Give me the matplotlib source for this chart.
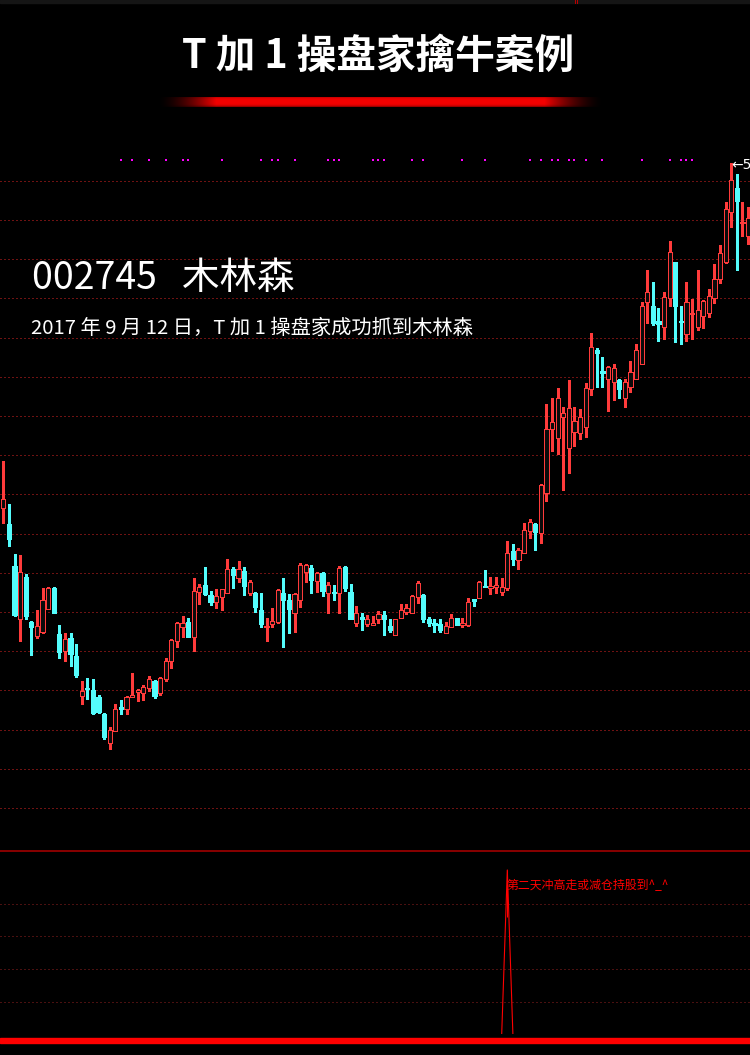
import numpy as np
import matplotlib
matplotlib.use("Agg")
import matplotlib.pyplot as plt
from matplotlib.patches import Rectangle

plt.rcParams['font.family'] = ['Noto Sans CJK SC', 'DejaVu Sans']

# daily K-line of 002745, one value per trading day
opens = [
    37.09, 36.30, 34.20, 31.54, 33.67, 31.40, 30.70, 30.92, 32.07, 33.10,
    30.80, 29.95, 30.60, 29.70, 27.72, 28.08, 28.00, 27.65, 26.80, 25.37,
    25.97, 27.17, 27.04, 27.67, 27.90, 27.84, 28.09, 28.45, 27.87, 28.55,
    29.47, 30.47, 31.17, 31.40, 30.67, 32.92, 33.25, 32.75, 32.42, 32.67,
    32.84, 34.04, 33.59, 33.95, 32.85, 32.84, 32.00, 31.14, 31.29, 31.42,
    32.87, 32.50, 31.84, 32.50, 33.92, 34.12, 33.47, 33.87, 32.84, 32.92,
    32.84, 34.17, 32.92, 31.37, 31.67, 31.30, 31.27, 31.55, 31.75, 31.20,
    30.75, 31.62, 31.92, 31.87, 32.67, 32.75, 31.55, 31.37, 31.29, 30.84,
    31.17, 31.59, 31.25, 31.25, 32.54, 32.59, 33.20, 33.09, 33.17, 32.92,
    33.12, 34.97, 34.50, 34.84, 35.97, 36.30, 35.87, 37.84, 41.04, 40.59,
    41.67, 40.09, 40.92, 40.87, 41.17, 43.05, 45.00, 43.97, 43.54, 43.42,
    43.50, 42.59, 43.14, 43.57, 44.29, 47.39, 47.20, 46.45, 46.14, 47.59,
    49.38, 46.44, 45.79, 46.79, 46.17, 46.70, 46.87, 47.62, 48.54, 49.40,
    51.92, 53.12, 51.34, 50.70]
highs = [
    39.47, 37.30, 34.80, 34.75, 33.80, 31.45, 32.00, 33.10, 33.15, 33.13,
    31.25, 30.87, 30.87, 30.30, 28.45, 28.62, 28.57, 27.75, 26.85, 26.14,
    27.29, 27.50, 27.70, 28.87, 28.03, 28.25, 28.70, 28.48, 28.64, 29.59,
    30.54, 31.42, 31.70, 31.59, 33.62, 33.30, 34.17, 32.95, 33.05, 33.06,
    34.55, 34.17, 34.45, 34.15, 33.50, 32.89, 32.84, 31.59, 32.09, 33.04,
    33.59, 32.80, 32.84, 34.37, 34.28, 34.25, 33.92, 33.88, 33.39, 33.25,
    34.20, 34.20, 33.30, 32.20, 31.87, 31.75, 31.70, 31.97, 31.97, 31.54,
    31.55, 32.30, 32.30, 32.73, 33.45, 32.78, 31.67, 31.54, 31.54, 31.42,
    31.80, 31.60, 31.59, 32.59, 32.56, 33.43, 34.00, 33.64, 33.67, 33.59,
    35.47, 35.30, 35.09, 36.37, 36.54, 36.34, 38.30, 42.30, 42.59, 43.09,
    42.14, 43.50, 42.14, 42.04, 43.37, 45.84, 45.09, 44.67, 44.20, 44.29,
    43.57, 43.54, 44.47, 45.30, 47.42, 49.00, 48.39, 47.09, 47.89, 50.45,
    49.39, 47.22, 48.39, 47.55, 49.00, 47.50, 48.05, 49.30, 50.25, 52.42,
    54.34, 53.80, 52.39, 52.17]
lows = [
    36.34, 35.20, 31.72, 30.47, 31.57, 29.75, 30.62, 30.87, 32.03, 31.85,
    29.62, 29.47, 29.20, 28.67, 27.30, 27.55, 26.80, 26.87, 25.55, 25.07,
    25.95, 26.80, 26.80, 27.65, 27.47, 27.50, 27.97, 27.59, 27.74, 28.47,
    29.12, 30.17, 30.64, 30.65, 29.97, 32.30, 32.75, 32.27, 32.12, 32.00,
    32.83, 33.12, 33.42, 32.75, 32.75, 31.92, 31.14, 30.47, 31.14, 31.37,
    30.17, 30.87, 30.92, 32.17, 33.42, 32.87, 32.92, 32.70, 31.84, 32.50,
    31.84, 32.95, 31.54, 31.20, 31.00, 31.20, 31.25, 31.37, 30.75, 30.92,
    30.74, 31.60, 31.80, 31.85, 32.34, 31.42, 31.20, 30.92, 30.92, 30.83,
    31.14, 31.23, 31.14, 31.20, 32.22, 32.58, 33.13, 32.80, 32.84, 32.75,
    33.00, 34.25, 34.07, 34.83, 35.59, 35.00, 35.34, 37.47, 39.97, 39.80,
    38.00, 38.84, 40.20, 40.55, 40.64, 42.75, 43.17, 43.17, 41.97, 42.50,
    42.59, 42.14, 42.92, 43.55, 44.28, 46.34, 46.25, 45.47, 45.54, 47.20,
    45.42, 45.30, 45.47, 45.54, 46.00, 46.09, 46.67, 47.37, 48.34, 49.34,
    51.17, 49.00, 50.72, 50.30]
closes = [
    37.54, 35.57, 31.75, 33.89, 31.70, 31.17, 31.20, 32.50, 33.10, 31.87,
    29.90, 30.55, 29.82, 28.74, 27.95, 28.03, 26.84, 26.90, 25.64, 26.00,
    27.04, 27.07, 27.64, 27.74, 28.00, 28.17, 28.54, 27.72, 28.59, 29.45,
    30.50, 31.35, 31.35, 30.67, 32.95, 33.15, 32.80, 32.42, 32.69, 33.04,
    34.04, 33.77, 34.04, 33.22, 33.40, 32.17, 31.30, 31.20, 31.45, 33.00,
    32.50, 32.05, 32.80, 34.25, 34.25, 33.50, 33.84, 32.97, 33.25, 32.84,
    34.09, 33.12, 31.55, 31.87, 31.57, 31.54, 31.34, 31.80, 31.54, 31.00,
    31.54, 32.00, 32.09, 32.70, 33.37, 31.55, 31.37, 31.25, 31.00, 31.20,
    31.59, 31.25, 31.37, 32.42, 32.45, 33.42, 33.14, 33.20, 33.25, 33.17,
    34.87, 34.54, 35.00, 36.00, 36.42, 35.89, 38.25, 41.05, 41.39, 42.59,
    41.84, 42.09, 41.45, 41.64, 43.09, 45.14, 44.87, 43.87, 44.14, 44.09,
    43.04, 43.39, 43.92, 45.00, 47.20, 47.89, 46.37, 46.29, 47.64, 49.89,
    47.22, 46.40, 47.39, 46.82, 46.99, 47.45, 47.70, 48.54, 49.84, 52.04,
    53.50, 52.45, 51.42, 51.59]

# days flagged by the magenta signal row at the top
signal_days = [21, 23, 26, 29, 32, 33, 39, 46, 48, 49, 52, 58, 59, 60, 66, 67,
               68, 73, 75, 82, 86, 94, 96, 98, 99, 101, 102, 104, 107, 114,
               119, 121, 122, 123]
signal_level = 54.5

# lower indicator spike (T+1 buy signal)
ind_days = [89, 90, 91]
ind_vals = [0.0, 5.03, 0.0]
ind_text_day = 90
ind_text = "第二天冲高走或减仓持股到^_^"

title = "T 加 1 操盘家擒牛案例"
stock = "002745   木林森"
subtitle = "2017 年 9 月 12 日，T 加 1 操盘家成功抓到木林森"

UP = "#ff3b3b"
DOWN = "#54fcfc"
BG = "#0b0b0b"
GRID = "#6e1212"
W, H = 750, 1055


def fy(px):
    return 1 - px / H


fig = plt.figure(figsize=(7.5, 10.55), dpi=100, facecolor="black")

# thin strip at top of the poster
fig.patches.append(Rectangle((0, fy(3)), 1, 3 / H, transform=fig.transFigure,
                             color="#151515", zorder=0))
fig.add_artist(plt.Line2D([574.5 / W, 574.5 / W], [fy(3), 1], color="#c00000",
                          lw=0.7, transform=fig.transFigure))
fig.add_artist(plt.Line2D([576.5 / W, 576.5 / W], [fy(3), 1], color="#c00000",
                          lw=0.7, transform=fig.transFigure))

# title and red gradient bar
fig.text(0.504, fy(56), title, ha="center", va="center", color="white",
         fontsize=28.5, fontweight="bold")
gax = fig.add_axes([158 / W, fy(107.5), (603 - 158) / W, 11 / H])
gax.axis("off")
t = np.linspace(0, 1, 400)
fx = np.clip(np.minimum(t, 1 - t) / 0.13, 0, 1) ** 1.6
v = np.linspace(-1, 1, 11)
gy = 1 - 0.35 * v ** 4
img = np.zeros((11, 400, 3))
img[:, :, 0] = 0.95 * gy[:, None] * fx[None, :]
gax.imshow(img, aspect="auto", interpolation="bilinear")

# main K-line panel
ax = fig.add_axes([0, fy(850), 1, (850 - 146) / H])
ax.set_facecolor(BG)
ax.set_xlim(-0.59, 133.34)
ax.set_ylim(20.0, 55.2)
ax.axis("off")
ax.patch.set_visible(True)
for lv in 22.1 + 1.96 * np.arange(17):
    ax.axhline(lv, color=GRID, lw=0.75, ls=(0, (1, 2)), antialiased=False,
               zorder=1)

days = np.arange(len(opens))
for d, o, hi, lo, c in zip(days, opens, highs, lows, closes):
    top, bot = max(o, c), min(o, c)
    if c >= o:
        ax.vlines(d, top, hi, color=UP, lw=0.75, antialiased=False, zorder=3)
        ax.vlines(d, lo, bot, color=UP, lw=0.75, antialiased=False, zorder=3)
        ax.add_patch(Rectangle((d - 0.36, bot), 0.72, max(top - bot, 0.05),
                               facecolor=BG, edgecolor=UP, lw=0.72,
                               antialiased=False, zorder=4))
    else:
        ax.vlines(d, lo, hi, color=DOWN, lw=0.75, antialiased=False, zorder=3)
        ax.add_patch(Rectangle((d - 0.36, bot), 0.72, max(top - bot, 0.06),
                               facecolor=DOWN, edgecolor=DOWN, lw=0.5,
                               antialiased=False, zorder=4))

ax.scatter(signal_days, [signal_level] * len(signal_days), marker="s", s=2.2,
           color="#ff00ff", linewidths=0, zorder=5)

top_day = int(np.argmax(highs))
ax.text(top_day - 0.05, highs[top_day] - 0.1, "←%.2f" % highs[top_day],
        color="white", fontsize=10, ha="left", va="center",
        family=["DejaVu Sans"], zorder=6)

ax.text(-0.59 + 32 / 5.6, 62.5 - 278 / 20, stock, color="white", fontsize=27,
        ha="left", va="center", zorder=6)
ax.text(-0.59 + 31 / 5.6, 62.5 - 328 / 20, subtitle, color="white",
        fontsize=14.6, ha="left", va="center", zorder=6)

# lower indicator panel
ax2 = fig.add_axes([0, fy(1034.4), 1, (1034.4 - 850) / H])
ax2.set_facecolor(BG)
ax2.set_xlim(-0.59, 133.34)
ax2.set_ylim(0, 5.64)
ax2.axis("off")
ax2.patch.set_visible(True)
for lv in [1, 2, 3, 4]:
    ax2.axhline(lv, color="#4a1010", lw=0.75, ls=(0, (1, 2)),
                antialiased=False, zorder=1)
ax2.axhline(5.62, color="#a00000", lw=1.2, zorder=2)
ax2.plot(ind_days, ind_vals, color="#ff0000", lw=0.8, zorder=3)
ax2.vlines(ind_text_day, 3.6, ind_vals[1], color="#ff0000", lw=0.75, zorder=3)
ax2.text(ind_text_day - 0.1, 4.54, ind_text, color="#ff0000", fontsize=8.6,
         ha="left", va="center", zorder=4)

# thick red bar at the bottom
fig.patches.append(Rectangle((0, fy(1043)), 1, 5.3 / H,
                             transform=fig.transFigure, color="#ff0000",
                             zorder=5))

fig.savefig("out.png", dpi=100, facecolor="black")
